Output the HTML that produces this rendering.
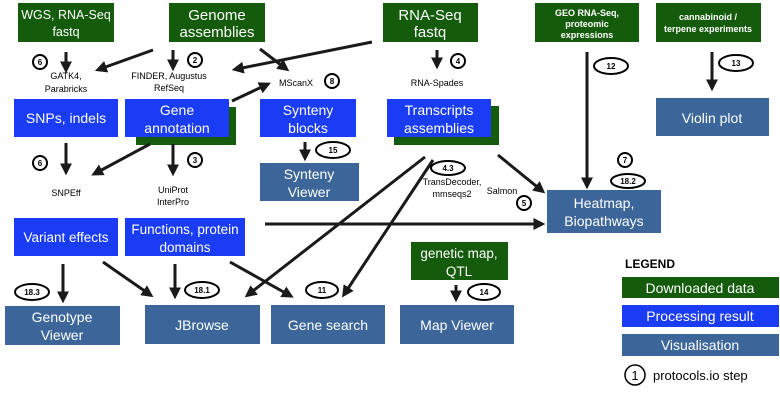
<!DOCTYPE html>
<html><head><meta charset="utf-8"><style>
html,body{margin:0;padding:0;background:#fff;}
svg{display:block;font-family:"Liberation Sans",sans-serif;}
.g{fill:#145c0c}.b{fill:#1a3cf5}.v{fill:#3c6699}
.t{fill:#fff;font-size:14px;text-anchor:middle}
.s{fill:#000;font-size:9px;text-anchor:middle}
.n{fill:#000;font-size:8px;font-weight:bold;text-anchor:middle}
.a{stroke:#1a1a1a;stroke-width:3;fill:none;marker-end:url(#h)}
.c{fill:#fff;stroke:#000;stroke-width:2}
</style></head><body>
<svg width="780" height="411" viewBox="0 0 780 411" xmlns="http://www.w3.org/2000/svg">
<defs><marker id="h" markerWidth="4" markerHeight="4" refX="2.2" refY="2" orient="auto" markerUnits="strokeWidth"><path d="M0,0 L4,2 L0,4 z" fill="#1a1a1a"/></marker></defs>
<rect class="g" x="18" y="3" width="96" height="39"/><text class="t" x="66" y="19" style="font-size:12.5px">WGS, RNA-Seq</text><text class="t" x="66" y="36" style="font-size:12.5px">fastq</text>
<rect class="g" x="169" y="3" width="96" height="39"/><text class="t" x="217" y="20" style="font-size:15px">Genome</text><text class="t" x="217" y="37" style="font-size:15px">assemblies</text>
<rect class="g" x="383" y="3" width="95" height="39"/><text class="t" x="430" y="20" style="font-size:15px">RNA-Seq</text><text class="t" x="430" y="37" style="font-size:15px">fastq</text>
<rect class="g" x="535" y="3" width="104" height="39"/><text class="t" x="587" y="16" style="font-size:9px;font-weight:bold">GEO RNA-Seq,</text><text class="t" x="587" y="27" style="font-size:9px;font-weight:bold">proteomic</text><text class="t" x="587" y="38" style="font-size:9px;font-weight:bold">expressions</text>
<rect class="g" x="656" y="3" width="105" height="39"/><text class="t" x="708" y="20" style="font-size:9px;font-weight:bold">cannabinoid /</text><text class="t" x="708" y="32" style="font-size:9px;font-weight:bold">terpene experiments</text>
<rect class="b" x="14" y="99" width="104" height="38"/><text class="t" x="66" y="123">SNPs, indels</text>
<rect class="g" x="136" y="107" width="100" height="38"/>
<rect class="b" x="125" y="99" width="104" height="38"/><text class="t" x="177" y="115">Gene</text><text class="t" x="177" y="133">annotation</text>
<rect class="b" x="260" y="99" width="96" height="38"/><text class="t" x="308" y="115">Synteny</text><text class="t" x="308" y="133">blocks</text>
<rect class="g" x="394" y="106" width="105" height="39"/>
<rect class="b" x="387" y="99" width="104" height="38"/><text class="t" x="439" y="115">Transcripts</text><text class="t" x="439" y="133">assemblies</text>
<rect class="v" x="656" y="98" width="113" height="38"/><text class="t" x="712" y="123">Violin plot</text>
<rect class="v" x="260" y="163" width="99" height="38"/><text class="t" x="309" y="179">Synteny</text><text class="t" x="309" y="197">Viewer</text>
<rect class="v" x="547" y="190" width="114" height="43"/><text class="t" x="604" y="208">Heatmap,</text><text class="t" x="604" y="226">Biopathways</text>
<rect class="b" x="14" y="218" width="104" height="38"/><text class="t" x="66" y="242" style="font-size:13.5px">Variant effects</text>
<rect class="b" x="125" y="218" width="120" height="38"/><text class="t" x="185" y="234" style="font-size:13.5px">Functions, protein</text><text class="t" x="185" y="252" style="font-size:13.5px">domains</text>
<rect class="g" x="411" y="242" width="97" height="38"/><text class="t" x="459" y="258" style="font-size:13.5px">genetic map,</text><text class="t" x="459" y="276" style="font-size:13.5px">QTL</text>
<rect class="v" x="5" y="306" width="115" height="39"/><text class="t" x="62" y="322">Genotype</text><text class="t" x="62" y="340">Viewer</text>
<rect class="v" x="145" y="305" width="115" height="39"/><text class="t" x="202" y="330">JBrowse</text>
<rect class="v" x="271" y="305" width="114" height="39"/><text class="t" x="328" y="330">Gene search</text>
<rect class="v" x="400" y="305" width="114" height="39"/><text class="t" x="457" y="330">Map Viewer</text>
<text x="625" y="268" style="font-size:12px;font-weight:bold">LEGEND</text>
<rect class="g" x="622" y="277" width="157" height="21"/><text class="t" x="700" y="293">Downloaded data</text>
<rect class="b" x="622" y="305" width="157" height="22"/><text class="t" x="700" y="321">Processing result</text>
<rect class="v" x="622" y="334" width="157" height="22"/><text class="t" x="700" y="350">Visualisation</text>
<circle class="c" cx="635" cy="375" r="10" style="stroke-width:1.5"/><text x="635" y="380" style="font-size:13px;text-anchor:middle">1</text>
<text x="653" y="380" style="font-size:13px">protocols.io step</text>
<line class="a" x1="66" y1="52" x2="66" y2="68"/>
<line class="a" x1="153" y1="50" x2="100" y2="69"/>
<line class="a" x1="173" y1="50" x2="173" y2="66"/>
<line class="a" x1="260" y1="49" x2="285" y2="68"/>
<line class="a" x1="372" y1="42" x2="237" y2="69"/>
<line class="a" x1="232" y1="101" x2="266" y2="85"/>
<line class="a" x1="437" y1="50" x2="437" y2="64"/>
<line class="a" x1="587" y1="52" x2="587" y2="184"/>
<line class="a" x1="712" y1="52" x2="712" y2="86"/>
<line class="a" x1="66" y1="143" x2="66" y2="170"/>
<line class="a" x1="150" y1="144" x2="96" y2="173"/>
<line class="a" x1="173" y1="144" x2="173" y2="171"/>
<line class="a" x1="305" y1="142" x2="305" y2="156"/>
<line class="a" x1="425" y1="157" x2="249" y2="294"/>
<line class="a" x1="433" y1="160" x2="345" y2="293"/>
<line class="a" x1="498" y1="155" x2="541" y2="190"/>
<line class="a" x1="265" y1="224" x2="540" y2="224"/>
<line class="a" x1="63" y1="264" x2="63" y2="298"/>
<line class="a" x1="103" y1="262" x2="149" y2="294"/>
<line class="a" x1="175" y1="264" x2="175" y2="294"/>
<line class="a" x1="230" y1="262" x2="289" y2="295"/>
<line class="a" x1="456" y1="285" x2="456" y2="297"/>
<text class="s" x="66" y="79">GATK4,</text><text class="s" x="66" y="92">Parabricks</text>
<text class="s" x="169" y="79">FINDER, Augustus</text><text class="s" x="169" y="91">RefSeq</text>
<text class="s" x="296" y="86">MScanX</text>
<text class="s" x="437" y="86">RNA-Spades</text>
<text class="s" x="66" y="196">SNPEff</text>
<text class="s" x="173" y="193">UniProt</text><text class="s" x="173" y="205">InterPro</text>
<text class="s" x="452" y="185">TransDecoder,</text><text class="s" x="452" y="197">mmseqs2</text>
<text class="s" x="502" y="194">Salmon</text>
<circle class="c" cx="40" cy="62" r="7"/><text class="n" x="40" y="65">6</text>
<circle class="c" cx="195" cy="60" r="7"/><text class="n" x="195" y="63">2</text>
<circle class="c" cx="332" cy="81" r="7"/><text class="n" x="332" y="84">8</text>
<circle class="c" cx="458" cy="61" r="7"/><text class="n" x="458" y="64">4</text>
<circle class="c" cx="40" cy="163" r="7"/><text class="n" x="40" y="166">6</text>
<circle class="c" cx="195" cy="160" r="7"/><text class="n" x="195" y="163">3</text>
<circle class="c" cx="524" cy="203" r="7"/><text class="n" x="524" y="206">5</text>
<circle class="c" cx="625" cy="160" r="7"/><text class="n" x="625" y="163">7</text>
<ellipse class="c" cx="611" cy="66" rx="17" ry="8"/><text class="n" x="611" y="69">12</text>
<ellipse class="c" cx="736" cy="63" rx="17" ry="8"/><text class="n" x="736" y="66">13</text>
<ellipse class="c" cx="333" cy="150" rx="17" ry="8"/><text class="n" x="333" y="153">15</text>
<ellipse class="c" cx="448" cy="168" rx="17" ry="7"/><text class="n" x="448" y="171">4.3</text>
<ellipse class="c" cx="628" cy="181" rx="17" ry="7"/><text class="n" x="628" y="184">18.2</text>
<ellipse class="c" cx="32" cy="292" rx="17" ry="8"/><text class="n" x="32" y="295">18.3</text>
<ellipse class="c" cx="202" cy="290" rx="17" ry="8"/><text class="n" x="202" y="293">18.1</text>
<ellipse class="c" cx="322" cy="290" rx="16" ry="8"/><text class="n" x="322" y="293">11</text>
<ellipse class="c" cx="484" cy="292" rx="16" ry="8"/><text class="n" x="484" y="295">14</text>
</svg>
</body></html>
